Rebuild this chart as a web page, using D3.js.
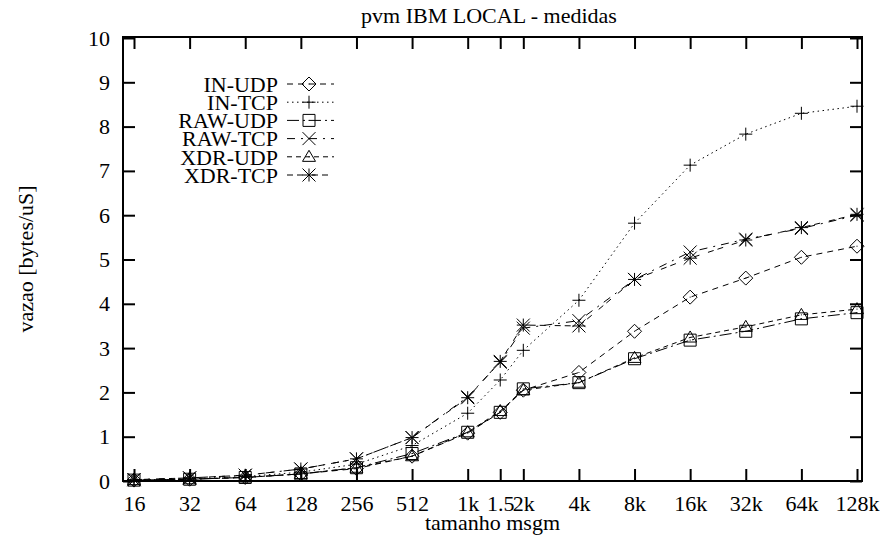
<!DOCTYPE html>
<html>
<head>
<meta charset="utf-8">
<script src="https://cdn.jsdelivr.net/npm/d3@7"></script>
<style>
  body { margin: 0; background: #fff; }
  svg { display: block; }
  svg text { font-family: "Liberation Serif", "DejaVu Serif", serif !important; font-size: 22px; fill: #000; }
</style>
</head>
<body>
<svg width="881" height="542"></svg>
<script>
// tamanhos de mensagem (bytes) e rotulos do eixo x
const sizes = [16, 32, 64, 128, 256, 512, 1024, 1536, 2048, 4096, 8192, 16384, 32768, 65536, 131072];
const sizeLabels = ["16", "32", "64", "128", "256", "512", "1k", "1.5", "2k", "4k", "8k", "16k", "32k", "64k", "128k"];
const yTicks = [0, 1, 2, 3, 4, 5, 6, 7, 8, 9, 10];

// vazao medida [bytes/uS]
const inUdp  = [0.02, 0.04, 0.08, 0.16, 0.28, 0.56, 1.08, 1.55, 2.05, 2.45, 3.38, 4.15, 4.58, 5.05, 5.30];
const inTcp  = [0.02, 0.05, 0.10, 0.20, 0.38, 0.80, 1.53, 2.28, 2.95, 4.08, 5.82, 7.13, 7.83, 8.30, 8.46];
const rawUdp = [0.02, 0.04, 0.08, 0.16, 0.30, 0.62, 1.10, 1.55, 2.08, 2.22, 2.76, 3.18, 3.38, 3.66, 3.80];
const rawTcp = [0.03, 0.07, 0.13, 0.27, 0.50, 0.98, 1.90, 2.68, 3.45, 3.62, 4.55, 5.17, 5.46, 5.70, 6.00];
const xdrUdp = [0.02, 0.04, 0.08, 0.16, 0.30, 0.56, 1.10, 1.58, 2.05, 2.22, 2.78, 3.24, 3.48, 3.75, 3.88];
const xdrTcp = [0.03, 0.07, 0.13, 0.27, 0.50, 0.98, 1.88, 2.70, 3.52, 3.50, 4.55, 5.03, 5.44, 5.72, 6.02];

const seriesNames = ["IN-UDP", "IN-TCP", "RAW-UDP", "RAW-TCP", "XDR-UDP", "XDR-TCP"];

const svg = d3.select("svg");

// moldura do grafico
const fLeft = 123, fRight = 862, fTop = 37, fBottom = 481;

const x = d3.scaleLog().base(2)
  .domain([16, 131072])
  .range([134, 857]);

const y = d3.scaleLinear()
  .domain([0, 10])
  .range([fBottom, 38]);

// simbolos estilo gnuplot
const R = 6.5;
const marks = {
  diamond: p => { p.moveTo(0, -R - 0.5); p.lineTo(R + 0.5, 0); p.lineTo(0, R + 0.5); p.lineTo(-R - 0.5, 0); p.closePath(); },
  plus: p => { p.moveTo(-R, 0); p.lineTo(R, 0); p.moveTo(0, -R); p.lineTo(0, R); },
  square: p => { p.rect(-R + 0.5, -R + 0.5, 2 * R - 1, 2 * R - 1); },
  times: p => { p.moveTo(-R, -R); p.lineTo(R, R); p.moveTo(-R, R); p.lineTo(R, -R); },
  triangle: p => { p.moveTo(0, -R); p.lineTo(R, R * 0.7); p.lineTo(-R, R * 0.7); p.closePath(); },
  star: p => {
    p.moveTo(-R, 0); p.lineTo(R, 0); p.moveTo(0, -R); p.lineTo(0, R);
    p.moveTo(-R, -R); p.lineTo(R, R); p.moveTo(-R, R); p.lineTo(R, -R);
  }
};
const markPath = name => { const p = d3.path(); marks[name](p); return p.toString(); };

const series = [
  { name: seriesNames[0], values: inUdp,  mark: "diamond",  dash: "6,5" },
  { name: seriesNames[1], values: inTcp,  mark: "plus",     dash: "1.5,3.5" },
  { name: seriesNames[2], values: rawUdp, mark: "square",   dash: "12,4,2,4" },
  { name: seriesNames[3], values: rawTcp, mark: "times",    dash: "8,6,2,6" },
  { name: seriesNames[4], values: xdrUdp, mark: "triangle", dash: "5,4" },
  { name: seriesNames[5], values: xdrTcp, mark: "star",     dash: "6,4,6,9" }
];

// eixos com marcas internas
const tickLen = 12;

svg.append("g").attr("transform", `translate(0,${fBottom})`)
  .call(d3.axisBottom(x).tickValues(sizes)
    .tickFormat((d, i) => sizeLabels[i])
    .tickSize(-tickLen).tickPadding(14));
svg.append("g").attr("transform", `translate(0,${fTop})`)
  .call(d3.axisTop(x).tickValues(sizes).tickFormat("").tickSize(-tickLen));
svg.append("g").attr("transform", `translate(${fLeft},0)`)
  .call(d3.axisLeft(y).tickValues(yTicks).tickSize(-tickLen).tickPadding(13));
svg.append("g").attr("transform", `translate(${fRight},0)`)
  .call(d3.axisRight(y).tickValues(yTicks).tickFormat("").tickSize(-tickLen));

svg.selectAll(".domain").remove();
svg.selectAll("g").attr("font-family", null).attr("font-size", null);
svg.selectAll(".tick line").attr("stroke", "#000").attr("stroke-width", 2);

svg.append("rect")
  .attr("x", fLeft).attr("y", fTop)
  .attr("width", fRight - fLeft).attr("height", fBottom - fTop)
  .attr("fill", "none").attr("stroke", "#000").attr("stroke-width", 2);

// linhas e pontos
const line = d3.line()
  .x((d, i) => x(sizes[i]))
  .y(d => y(d));

series.forEach(s => {
  svg.append("path")
    .datum(s.values)
    .attr("d", line)
    .attr("fill", "none")
    .attr("stroke", "#000")
    .attr("stroke-width", 1)
    .attr("stroke-dasharray", s.dash);

  const pts = svg.append("g").selectAll("g")
    .data(s.values)
    .join("g")
    .attr("transform", (d, i) => `translate(${x(sizes[i])},${y(d)})`);
  pts.append("path")
    .attr("d", markPath(s.mark))
    .attr("fill", "none")
    .attr("stroke", "#000")
    .attr("stroke-width", 1);
  pts.append("rect")
    .attr("x", -0.5).attr("y", -0.5).attr("width", 1).attr("height", 1)
    .attr("fill", "#000");
});

// legenda
const legend = svg.append("g");
const rowY = d3.scaleLinear().domain([0, 5]).range([84, 175]);
series.forEach((s, i) => {
  const g = legend.append("g").attr("transform", `translate(0,${rowY(i)})`);
  g.append("text")
    .attr("x", 278).attr("dy", "0.35em")
    .attr("text-anchor", "end")
    .text(s.name);
  g.append("line")
    .attr("x1", 287).attr("x2", 334)
    .attr("stroke", "#000").attr("stroke-width", 1)
    .attr("stroke-dasharray", s.dash);
  g.append("path")
    .attr("transform", "translate(309,0)")
    .attr("d", markPath(s.mark))
    .attr("fill", "none").attr("stroke", "#000").attr("stroke-width", 1);
  g.append("rect")
    .attr("x", 308.5).attr("y", -0.5).attr("width", 1).attr("height", 1)
    .attr("fill", "#000");
});

// titulos
svg.append("text")
  .attr("x", 489).attr("y", 23)
  .attr("text-anchor", "middle")
  .text("pvm IBM LOCAL - medidas");

svg.append("text")
  .attr("x", (fLeft + fRight) / 2).attr("y", 530)
  .attr("text-anchor", "middle")
  .text("tamanho msgm");

svg.append("text")
  .attr("transform", `translate(33,${(fTop + fBottom) / 2}) rotate(-90)`)
  .attr("text-anchor", "middle")
  .text("vazao [bytes/uS]");
</script>
</body>
</html>
